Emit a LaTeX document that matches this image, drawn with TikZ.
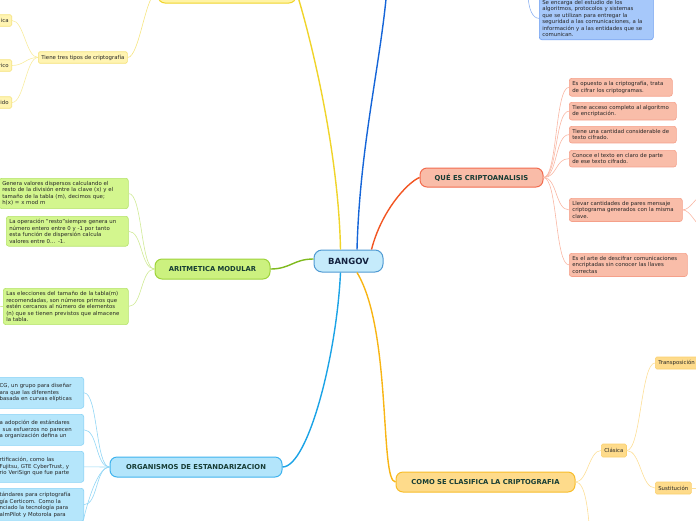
\documentclass[tikz,border=0pt]{standalone}
\usepackage{fontspec}
\setmainfont{DejaVu Sans}
\usepackage{tikz}
\usetikzlibrary{calc}

% branch colours
\definecolor{centrefill}{HTML}{C5EBFB}
\definecolor{centreline}{HTML}{4F9AD3}
\definecolor{centretxt}{HTML}{14233F}
\definecolor{branchtxt}{HTML}{163C34}
\definecolor{leaftxt}{HTML}{262626}
\definecolor{ylwfill}{HTML}{FFF3A6}
\definecolor{ylwline}{HTML}{F0D42A}
\definecolor{lemfill}{HTML}{FFF4B2}
\definecolor{lemline}{HTML}{F5E27A}
\definecolor{lemtwig}{HTML}{F8EC9F}
\definecolor{blueline}{HTML}{1565D8}
\definecolor{skyfill}{HTML}{A6C8FA}
\definecolor{skyline}{HTML}{6E9EF0}
\definecolor{skytwig}{HTML}{8FB3F2}
\definecolor{redline}{HTML}{F25522}
\definecolor{redfill}{HTML}{F9BCA8}
\definecolor{redbox}{HTML}{F26C4F}
\definecolor{salfill}{HTML}{F9BDA9}
\definecolor{salline}{HTML}{F5A08A}
\definecolor{saltwig}{HTML}{F9B7A4}
\definecolor{grnline}{HTML}{7FBA1E}
\definecolor{grnfill}{HTML}{CCF17F}
\definecolor{grnbox}{HTML}{9ED33B}
\definecolor{limfill}{HTML}{D3F68E}
\definecolor{limline}{HTML}{B5E36A}
\definecolor{grntwig}{HTML}{CFEA95}
\definecolor{cyanline}{HTML}{1BA3E6}
\definecolor{cyanfill}{HTML}{B3E5FB}
\definecolor{cyanbox}{HTML}{3FB3EE}
\definecolor{aquafill}{HTML}{B5E6FB}
\definecolor{aqualine}{HTML}{8AD3F6}
\definecolor{cyantwig}{HTML}{92D6F5}
\definecolor{orgline}{HTML}{F8B514}
\definecolor{orgfill}{HTML}{FEDB8B}
\definecolor{orgbox}{HTML}{F8BD2A}
\definecolor{sandline}{HTML}{FBD06E}
\definecolor{orgtwig}{HTML}{FDDF98}

\begin{document}
\begin{tikzpicture}[x=1pt,y=-1pt,
  mainbox/.style={draw,line width=1pt,rounded corners=7pt,inner sep=0pt,
    font=\fontsize{6.8}{7.5}\selectfont\bfseries,text=branchtxt},
  subbox/.style={draw,line width=0.6pt,rounded corners=2.5pt,align=left,
    inner xsep=3pt,inner ysep=3pt,font=\fontsize{5.4}{6.5}\selectfont,text=leaftxt},
  leafbox/.style={draw,line width=0.6pt,rounded corners=1.5pt,inner xsep=3pt,
    inner ysep=0pt,minimum height=11.5pt,font=\fontsize{5.4}{6}\selectfont,text=leaftxt},
  trunk/.style={line width=1.4pt},
  twig/.style={line width=0.6pt}]
  \useasboundingbox (0,0) rectangle (696,520);
  \clip (0,0) rectangle (696,520);

  % Central topic
  \node[mainbox,fill=centrefill,draw=centreline,text=centretxt,rounded corners=8pt,
    font=\fontsize{8.5}{9}\selectfont\bfseries,minimum width=69pt,minimum height=22pt]
    (bangov) at (348.5,261) {BANGOV};

  % Yellow branch, its title lies above the page
  \node[mainbox,fill=ylwfill,draw=ylwline,minimum width=138pt,minimum height=22pt]
    (cripto) at (227,-8) {};
  \node[leafbox,fill=lemfill,draw=lemline,anchor=west] (tres) at (38,57.5)
    {Tiene tres tipos de criptografía};
  \node[leafbox,fill=lemfill,draw=lemline,anchor=east] (simetrica) at (12,20.5) {ica};
  \node[leafbox,fill=lemfill,draw=lemline,anchor=east] (asimetrico) at (12,65.5) {rico};
  \node[leafbox,fill=lemfill,draw=lemline,anchor=east] (hibrido) at (12,102.5) {ido};

  % Blue branch leaves the page at the top
  \coordinate (offtop) at (388,-25);
  \coordinate (skyparent) at (528,-8);
  \node[subbox,fill=skyfill,draw=skyline,anchor=south west,text width=108pt] (estudio)
    at (539,40) {Se encarga del estudio de los\\algoritmos, protocolos y sistemas\\
    que se utilizan para entregar la\\seguridad a las comunicaciones, a la\\
    información y a las entidades que se\\comunican.};

  % Criptoanalisis
  \node[mainbox,fill=redfill,draw=redbox,minimum width=123pt,minimum height=19pt]
    (analisis) at (481.5,177.5) {QUÉ ES CRIPTOANALISIS};
  \node[subbox,fill=salfill,draw=salline,anchor=north west,text width=97pt] (opuesto)
    at (569,78) {Es opuesto a la criptografía, trata\\de cifrar los criptogramas.};
  \node[subbox,fill=salfill,draw=salline,anchor=north west,text width=101pt] (acceso)
    at (569,102) {Tiene acceso completo al algoritmo\\de encriptación.};
  \node[subbox,fill=salfill,draw=salline,anchor=north west,text width=101pt] (cantidad)
    at (569,126) {Tiene una cantidad considerable de\\texto cifrado.};
  \node[subbox,fill=salfill,draw=salline,anchor=north west,text width=101pt] (claro)
    at (569,150) {Conoce el texto en claro de parte\\de ese texto cifrado.};
  \node[subbox,fill=salfill,draw=salline,anchor=north west,text width=107pt] (pares)
    at (569,198) {Llevar cantidades de pares mensaje\\criptograma generados con la misma\\clave.};
  \node[subbox,fill=salfill,draw=salline,anchor=north west,text width=112pt] (arte)
    at (569,253) {Es el arte de descifrar comunicaciones\\encriptadas sin conocer las llaves\\correctas};
  \coordinate (paresA) at (702,196);
  \coordinate (paresB) at (702,226);

  % Aritmetica modular
  \node[mainbox,fill=grnfill,draw=grnbox,minimum width=115pt,minimum height=20pt]
    (aritmetica) at (212.5,269) {ARITMETICA MODULAR};
  \node[subbox,fill=limfill,draw=limline,anchor=north west,text width=123pt] (dispersos)
    at (-1,178) {Genera valores dispersos calculando el\\resto de la división entre la clave (x) y el\\
    tamaño de la tabla (m), decimos que;\\h(x) = x mod m};
  \node[subbox,fill=limfill,draw=limline,anchor=north west,text width=116pt] (resto)
    at (6,216) {La operación "resto"siempre genera un\\número entero entre 0 y -1 por tanto\\
    esta función de dispersión calcula\\valores entre 0... -1.};
  \node[subbox,fill=limfill,draw=limline,anchor=north west,text width=119pt] (elecciones)
    at (3,288) {Las elecciones del tamaño de la tabla(m)\\recomendadas, son números primos que\\
    estén cercanos al número de elementos\\(n) que se tienen previstos que almacene\\la tabla.};
  \coordinate (eleccionesout) at (-8,307);

  % Organismos de estandarizacion
  \node[mainbox,fill=cyanfill,draw=cyanbox,minimum width=172pt,minimum height=20pt]
    (organismos) at (196,467) {ORGANISMOS DE ESTANDARIZACION};
  \node[subbox,fill=aquafill,draw=aqualine,anchor=north east,text width=81pt,
    minimum height=31pt] (ecc) at (84,377)
    {CG, un grupo para diseñar\\ara que las diferentes\\basada en curvas elípticas};
  \node[subbox,fill=aquafill,draw=aqualine,anchor=north east,text width=81pt,
    minimum height=31pt] (adopcion) at (84,414)
    {a adopción de estándares\\\hspace*{3pt}sus esfuerzos no parecen\\a organización defina un};
  \node[subbox,fill=aquafill,draw=aqualine,anchor=north east,text width=81pt,
    minimum height=31pt] (certificacion) at (84,451)
    {rtificación, como las\\Fujitsu, GTE CyberTrust, y\\rio VeriSign que fue parte};
  \node[subbox,fill=aquafill,draw=aqualine,anchor=north east,text width=81pt,
    inner ysep=4pt] (certicom) at (84,488)
    {tándares para criptografía\\gía Certicom. Como la\\nciado la tecnología para\\almPilot y Motorola para};
  \coordinate (organismosout) at (80,535);

  % Como se clasifica la criptografia
  \node[mainbox,fill=orgfill,draw=orgbox,minimum width=179pt,minimum height=20pt]
    (clasifica) at (485.5,482) {COMO SE CLASIFICA LA CRIPTOGRAFIA};
  \node[leafbox,fill=orgfill,draw=sandline,anchor=west,minimum height=13pt] (clasica)
    at (601,450.5) {Clásica};
  \node[leafbox,fill=orgfill,draw=sandline,anchor=west,minimum height=12pt] (transposicion)
    at (655,363) {Transposición};
  \node[leafbox,fill=orgfill,draw=sandline,anchor=west,minimum height=12pt] (sustitucion)
    at (655,488) {Sustitución};
  \coordinate (clasificaout) at (590,535);
  \coordinate (sustitucionout) at (702,488);

  % Main branches out of the centre
  \draw[trunk,ylwline] ([xshift=-8pt]bangov.north) .. controls +(-2,-100) and +(14,45) .. (cripto.east);
  \draw[trunk,blueline] ([xshift=8.5pt]bangov.north) .. controls +(3,-110) and +(-5,80) .. (offtop);
  \draw[trunk,redline] ([xshift=23pt]bangov.north) .. controls +(10,-39) and +(-12,5) .. (analisis.west);
  \draw[trunk,grnline] ([yshift=2pt]bangov.west) .. controls +(-20,0) and +(20,0) .. (aritmetica.east);
  \draw[trunk,cyanline] ([xshift=-8pt]bangov.south) .. controls +(-4,85) and +(25,0) .. (organismos.east);
  \draw[trunk,orgline] ([xshift=8.5pt]bangov.south) .. controls +(35,58) and +(-16,0) .. (clasifica.west);

  % Thin links to the leaves
  \draw[twig,ylwline!60] (cripto.west) .. controls +(-12,0) and +(12,0) .. (tres.east);
  \foreach \leaf in {simetrica,asimetrico,hibrido}
    \draw[twig,lemtwig] (tres.west) .. controls +(-12,0) and +(12,0) .. (\leaf.east);
  \draw[twig,skytwig] (skyparent) .. controls +(0,18) and +(-6,0) .. (estudio.west);
  \foreach \leaf in {opuesto,acceso,cantidad,claro,pares,arte}
    \draw[twig,saltwig] (analisis.east) .. controls +(14,0) and +(-14,0) .. (\leaf.west);
  \draw[twig,saltwig] (pares.east) .. controls +(8,0) and +(-6,0) .. (paresA);
  \draw[twig,saltwig] (pares.east) .. controls +(8,0) and +(-6,0) .. (paresB);
  \foreach \leaf in {dispersos,resto,elecciones}
    \draw[twig,grntwig] (aritmetica.west) .. controls +(-14,0) and +(14,0) .. (\leaf.east);
  \draw[twig,grntwig] (elecciones.west) -- (eleccionesout);
  \foreach \leaf in {ecc,adopcion,certificacion,certicom}
    \draw[twig,cyantwig] (organismos.west) .. controls +(-14,0) and +(14,0) .. (\leaf.east);
  \draw[twig,cyantwig] (organismos.west) .. controls +(-14,0) and +(4,-20) .. (organismosout);
  \draw[twig,orgtwig] (clasifica.east) .. controls +(12,0) and +(-12,0) .. (clasica.west);
  \draw[twig,orgtwig] (clasifica.east) .. controls +(10,0) and +(-2,-25) .. (clasificaout);
  \foreach \leaf in {transposicion,sustitucion}
    \draw[twig,orgtwig] (clasica.east) .. controls +(14,0) and +(-14,0) .. (\leaf.west);
  \draw[twig,orgtwig] (sustitucion.east) -- (sustitucionout);
\end{tikzpicture}
\end{document}
